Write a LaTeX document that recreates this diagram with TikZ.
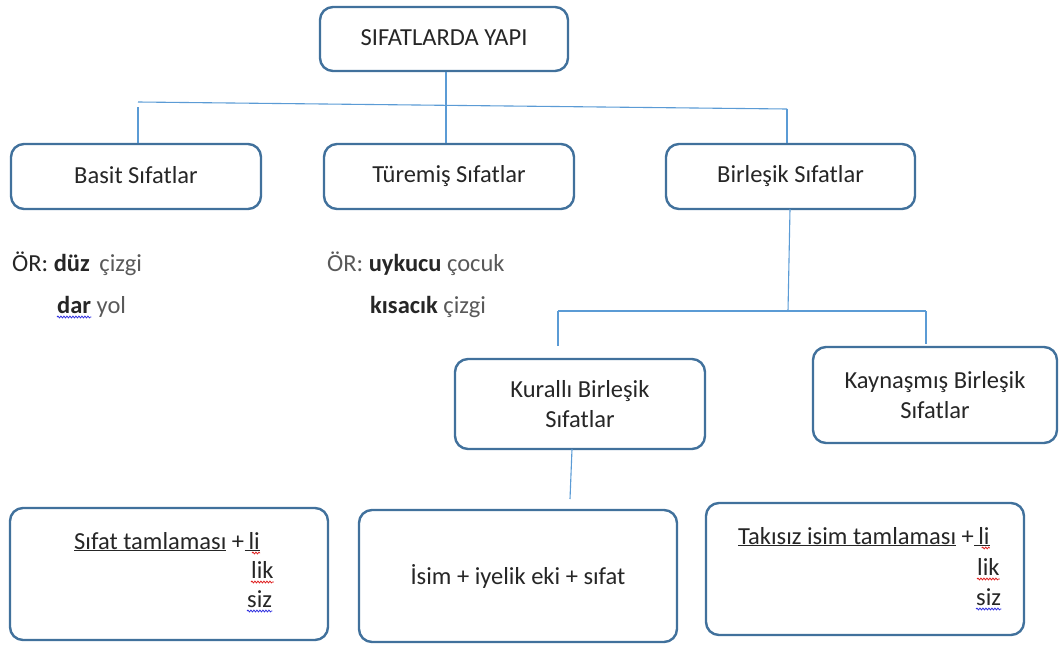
\documentclass[tikz,border=0pt]{standalone}
\usepackage{fontspec}
\setmainfont{Carlito}
\usetikzlibrary{decorations.pathmorphing,calc}
\definecolor{boxline}{HTML}{41719C}
\definecolor{conn}{HTML}{5B9BD5}
\definecolor{ink}{HTML}{262626}
\definecolor{softink}{HTML}{595959}
\definecolor{squigred}{HTML}{E02020}
\definecolor{squigblue}{HTML}{3030E0}
\newcommand{\lifted}[1]{\raisebox{3.5pt}{#1}}
\begin{document}
\begin{tikzpicture}[x=1pt,y=-1pt,
  box/.style={draw=boxline,line width=2.4pt,rounded corners=13pt,fill=white,
    text=ink,align=center,inner sep=0pt,font=\fontsize{24.5}{30}\selectfont},
  link/.style={draw=conn,line width=1.1pt},
  txt/.style={anchor=base west,inner sep=0pt,text=ink,font=\fontsize{24.5}{30}\selectfont},
  squig/.style={line width=0.8pt,decorate,
    decoration={snake,segment length=3pt,amplitude=0.9pt}}]
\useasboundingbox (0,0) rectangle (1059,648);

% boxes
\node[box,minimum width=248,minimum height=64] (top) at (444,39) {\lifted{SIFATLARDA YAPI}};
\node[box,minimum width=250,minimum height=65] (basit) at (136,176.5) {\lifted{Basit Sıfatlar}};
\node[box,minimum width=250,minimum height=65] (turemis) at (449,176.5) {\lifted{Türemiş Sıfatlar}};
\node[box,minimum width=249,minimum height=65] (birlesik) at (790.5,176.5) {\lifted{Birleşik Sıfatlar}};
\node[box,minimum width=250,minimum height=90] (kuralli) at (580,404) {Kurallı Birleşik\\Sıfatlar};
\node[box,minimum width=244,minimum height=96] (kaynasmis) at (935,395) {Kaynaşmış Birleşik\\Sıfatlar};
\node[box,minimum width=318,minimum height=132] (bl) at (169,574) {};
\node[box,minimum width=318,minimum height=132] (bm) at (518,576) {İsim + iyelik eki + sıfat};
\node[box,minimum width=318,minimum height=132] (br) at (865,569) {};

% top-level branching
\coordinate (hl) at (138,102);
\coordinate (hlv) at (138,107);
\coordinate (hr) at (787,109);
\coordinate (hm) at (446,105.5);
\draw[link] (hl) -- (hr);
\draw[link] (top.south -| hm) -- (hm) -- (hm |- turemis.north);
\draw[link] (hlv) -- (hlv |- basit.north);
\draw[link] (hr) -- (hr |- birlesik.north);

% second-level branching
\coordinate (bs) at (790,209);
\coordinate (bj) at (788,311);
\coordinate (kl) at (558,311);
\coordinate (kr) at (926,311);
\coordinate (kle) at (558,346);
\coordinate (kre) at (926,344);
\draw[link] (bs) -- (bj);
\draw[link] (kl) -- (kr);
\draw[link] (kl) -- (kle);
\draw[link] (kr) -- (kre);
\coordinate (ks) at (572,449);
\coordinate (kd) at (570,499);
\draw[link] (ks) -- (kd);

% examples
\node[txt] (ex1) at (12,271) {ÖR: \textbf{düz}\, {\color{softink}çizgi}};
\node[txt] (ex2) at (57,313) {\textbf{dar} {\color{softink}yol}};
\node[txt] (ex3) at (327,271) {{\color{softink}ÖR:} \textbf{uykucu} {\color{softink}çocuk}};
\node[txt] (ex4) at (370,313) {\textbf{kısacık} {\color{softink}çizgi}};
\node[txt] (dar) at (57,313) {\phantom{\textbf{dar}}};
\draw[squig,squigblue] ($(dar.base west)+(0,4)$) -- ($(dar.base east)+(0,4)$);

% bottom-left formula
\node[txt] (bl1) at (74,549) {\underline{Sıfat tamlaması} +};
\node[txt] (bl2) at (bl1.base east) {\underline{\hspace{4pt}li}};
\node[txt] (bl3) at (251,578) {lik};
\node[txt] (bl4) at (247,607) {siz};
\draw[squig,squigred] ($(bl2.base east)+(-8,4)$) -- ($(bl2.base east)+(0,4)$);
\draw[squig,squigred] ($(bl3.base west)+(0,4)$) -- ($(bl3.base east)+(0,4)$);
\draw[squig,squigblue] ($(bl4.base west)+(0,4)$) -- ($(bl4.base east)+(0,4)$);

% bottom-right formula
\node[txt] (br1) at (738,544) {\underline{Takısız isim tamlaması} +};
\node[txt] (br2) at (br1.base east) {\underline{\hspace{4pt}li}};
\node[txt] (br3) at (977,575) {lik};
\node[txt] (br4) at (976,605) {siz};
\draw[squig,squigred] ($(br2.base east)+(-8,4)$) -- ($(br2.base east)+(0,4)$);
\draw[squig,squigred] ($(br3.base west)+(0,4)$) -- ($(br3.base east)+(0,4)$);
\draw[squig,squigblue] ($(br4.base west)+(0,4)$) -- ($(br4.base east)+(0,4)$);
\end{tikzpicture}
\end{document}
